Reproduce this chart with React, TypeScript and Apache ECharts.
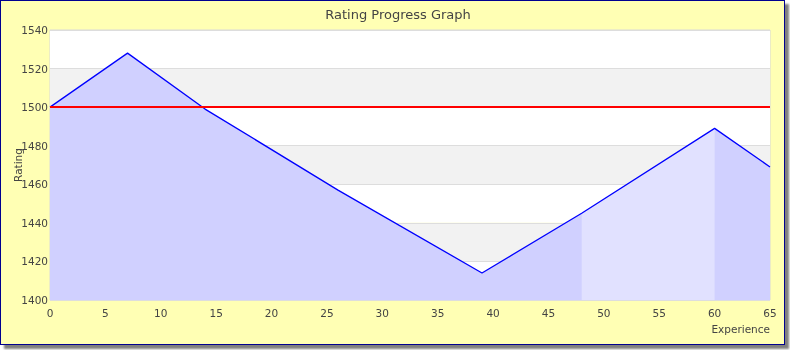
import React, { useEffect, useRef } from "react";
import * as echarts from "echarts";

const experience = [0, 7, 14, 26, 39, 48, 60, 65];
const rating = [1500, 1528, 1499, 1457, 1414, 1445, 1489, 1469];
const highlightRange = [48, 60];
const baselineRating = 1500;
const xTicks = { min: 0, max: 65, interval: 5 };
const yTicks = { min: 1400, max: 1540, interval: 20 };

const FONT = "DejaVu Sans";
const TEXT = "#444444";

export default function App() {
  const ref = useRef<HTMLDivElement>(null);
  useEffect(() => {
    if (!ref.current) return;
    const chart = echarts.init(ref.current, null, { renderer: "svg" });
    const pairs = experience.map((x, i) => [x, rating[i]]);
    const highlight = pairs.filter(
      (p) => p[0] >= highlightRange[0] && p[0] <= highlightRange[1]
    );
    chart.setOption({
      animation: false,
      backgroundColor: "transparent",
      title: {
        text: "Rating Progress Graph",
        left: 393,
        textAlign: "center",
        top: 3,
        textStyle: { fontFamily: FONT, fontSize: 13, fontWeight: "normal", color: TEXT },
      },
      grid: {
        left: 50,
        top: 30,
        width: 720,
        height: 270,
        containLabel: false,
        outerBoundsMode: "none",
        show: true,
        borderColor: "#d8d8d8",
        borderWidth: 1,
        backgroundColor: "transparent",
      },
      xAxis: {
        type: "value",
        min: xTicks.min,
        max: xTicks.max,
        interval: xTicks.interval,
        name: "Experience",
        nameLocation: "end",
        nameGap: 0,
        nameMoveOverlap: false,
        nameTextStyle: {
          fontFamily: FONT,
          fontSize: 10.5,
          color: TEXT,
          align: "right",
          verticalAlign: "top",
          padding: [23, 0, 0, 0],
        },
        axisLine: { show: false },
        axisTick: { show: false },
        splitLine: { show: false },
        axisLabel: {
          fontFamily: FONT,
          fontSize: 10.5,
          color: TEXT,
          margin: 7,
          formatter: (v: number) => String(v),
        },
      },
      yAxis: {
        type: "value",
        min: yTicks.min,
        max: yTicks.max,
        interval: yTicks.interval,
        name: "Rating",
        nameLocation: "middle",
        nameGap: 27,
        nameMoveOverlap: false,
        nameTextStyle: { fontFamily: FONT, fontSize: 10.5, color: TEXT },
        axisLine: { show: false },
        axisTick: { show: false },
        axisLabel: {
          fontFamily: FONT,
          fontSize: 10.5,
          color: TEXT,
          margin: 2,
          formatter: (v: number) => String(v),
        },
        splitLine: { show: true, lineStyle: { color: "#dddddd", width: 1 } },
        splitArea: { show: true, areaStyle: { color: ["#ffffff", "#f2f2f2"] } },
      },
      series: [
        {
          type: "line",
          data: pairs,
          symbol: "none",
          lineStyle: { width: 0 },
          areaStyle: { color: "#d0d0ff", opacity: 1, origin: "start" },
          z: 2,
          silent: true,
        },
        {
          type: "line",
          data: highlight,
          symbol: "none",
          lineStyle: { width: 0 },
          areaStyle: { color: "#e1e1ff", opacity: 1, origin: "start" },
          z: 3,
          silent: true,
        },
        {
          type: "line",
          data: pairs,
          symbol: "none",
          lineStyle: { color: "#0000ff", width: 1.3 },
          z: 4,
          silent: true,
          markLine: {
            silent: true,
            symbol: "none",
            label: { show: false },
            lineStyle: { color: "#ff0000", width: 2, type: "solid" },
            data: [{ yAxis: baselineRating }],
          },
        },
      ],
    });
    return () => chart.dispose();
  }, []);

  return (
    <div style={{ position: "fixed", left: 0, top: 0, width: 790, height: 350 }}>
      <div
        style={{
          position: "absolute",
          left: 0,
          top: 0,
          width: 785,
          height: 345,
          boxSizing: "border-box",
          border: "1px solid #000090",
          background: "#ffffb4",
          boxShadow: "4px 4px 2px rgba(0,0,0,0.5)",
        }}
      />
      <div ref={ref} style={{ position: "absolute", left: 0, top: 0, width: 790, height: 350 }} />
    </div>
  );
}
